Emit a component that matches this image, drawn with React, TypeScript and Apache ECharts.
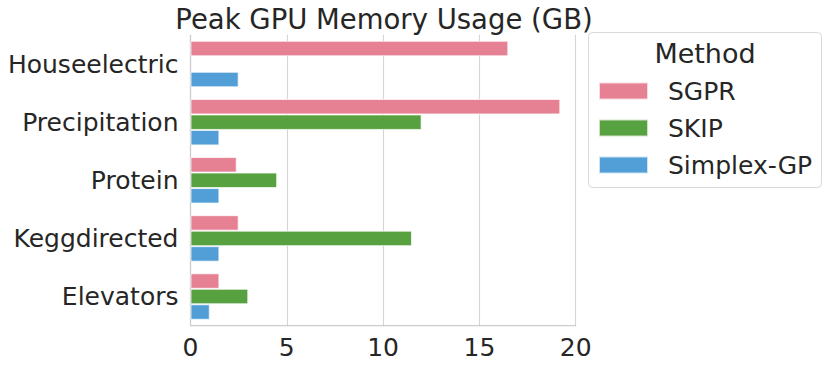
import React, { useEffect, useRef } from "react";
import * as echarts from "echarts";

const categories = ["Houseelectric", "Precipitation", "Protein", "Keggdirected", "Elevators"];
const seriesNames = ["SGPR", "SKIP", "Simplex-GP"];
const sgprValues = [16.5, 19.2, 2.4, 2.5, 1.5];
const skipValues: (number | null)[] = [null, 12.0, 4.5, 11.5, 3.0];
const simplexValues = [2.5, 1.5, 1.5, 1.5, 1.0];
const colors = ["#e68194", "#58a141", "#519fd6"];
const xTicks = [0, 5, 10, 15, 20];

const FONT = "DejaVu Sans";
const TXT = "#262626";

export default function App() {
  const ref = useRef<HTMLDivElement>(null);
  useEffect(() => {
    if (!ref.current) return;
    const chart = echarts.init(ref.current, undefined, { renderer: "svg" });
    const values = [sgprValues, skipValues, simplexValues];
    chart.setOption({
      animation: false,
      textStyle: { fontFamily: FONT, color: TXT },
      grid: { left: 190.5, top: 35, width: 385.2, height: 290.6, containLabel: false },
      xAxis: {
        type: "value",
        min: xTicks[0],
        max: xTicks[xTicks.length - 1],
        interval: 5,
        axisLine: { show: true, lineStyle: { color: "#cccccc", width: 1.25 } },
        axisTick: { show: false },
        axisLabel: { fontSize: 25, color: TXT, fontFamily: FONT, margin: 9 },
        splitLine: { show: true, lineStyle: { color: "#d4d4d4", width: 1.1 } },
      },
      yAxis: {
        type: "category",
        data: categories,
        inverse: true,
        axisLine: { show: true, lineStyle: { color: "#cccccc", width: 1.25 } },
        axisTick: { show: false },
        axisLabel: { fontSize: 25, color: TXT, fontFamily: FONT, margin: 12 },
        splitLine: { show: false },
      },
      legend: {
        orient: "vertical",
        left: 598,
        top: 78,
        padding: 0,
        itemWidth: 49,
        itemHeight: 17,
        itemGap: 11,
        icon: "rect",
        data: seriesNames,
        textStyle: { fontSize: 25, color: TXT, fontFamily: FONT, lineHeight: 26, padding: [0, 0, 0, 15] },
      },
      graphic: [
        {
          type: "rect",
          z: -1,
          shape: { x: 588.5, y: 32.5, width: 233, height: 155, r: 4 },
          style: { fill: "#ffffff", stroke: "#d9d9d9", lineWidth: 1 },
        },
        {
          type: "text",
          x: 705,
          y: 53,
          style: {
            text: "Method",
            fontSize: 27,
            fontFamily: FONT,
            fill: TXT,
            textAlign: "center",
            textVerticalAlign: "middle",
          },
        },
        {
          type: "text",
          x: 384,
          y: 19,
          style: {
            text: "Peak GPU Memory Usage (GB)",
            fontSize: 27.5,
            fontFamily: FONT,
            fill: TXT,
            textAlign: "center",
            textVerticalAlign: "middle",
          },
        },
      ],
      series: seriesNames.map((name, i) => ({
        name,
        type: "bar",
        data: values[i],
        barGap: "0%",
        barCategoryGap: "20%",
        itemStyle: { color: colors[i], borderColor: "rgba(255,255,255,0.7)", borderWidth: 1 },
      })),
    });
    return () => chart.dispose();
  }, []);
  return (
    <div
      ref={ref}
      style={{ position: "fixed", left: 0, top: 0, width: 831, height: 369, background: "#fff" }}
    />
  );
}
